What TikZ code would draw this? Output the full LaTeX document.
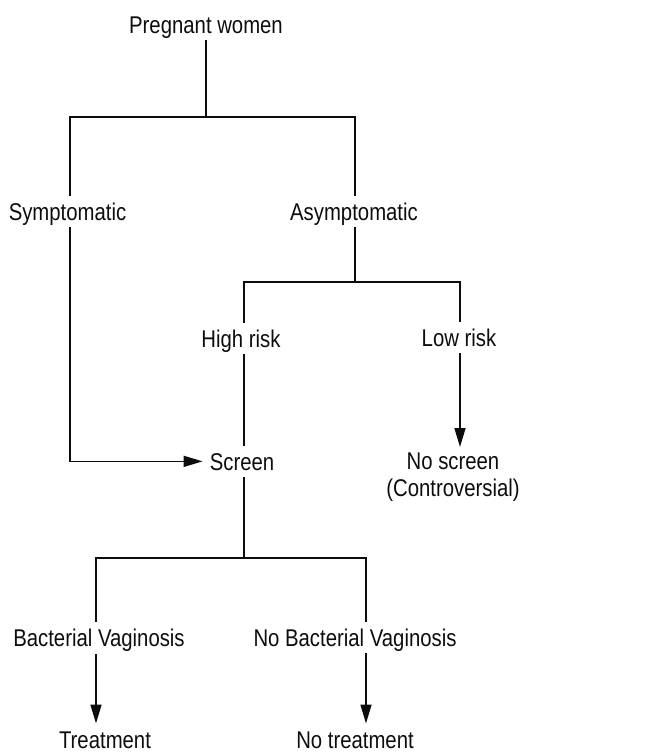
\documentclass[tikz,border=0pt]{standalone}
\usepackage{fontspec}
\setmainfont{Liberation Sans}[FakeStretch=0.84]
\usepackage{tikz}
\usetikzlibrary{arrows.meta,positioning}
\definecolor{ChartInk}{gray}{0.05}
\tikzset{
  chart/.style={x=1pt,y=-1pt,text=ChartInk,draw=ChartInk},
  term/.style={font=\fontsize{24.2pt}{27pt}\selectfont,inner xsep=7pt,inner ysep=7pt},
  oneline/.style={term,anchor=base,text height=17.3pt,text depth=0pt},
  link/.style={line width=1.6pt,draw=ChartInk},
  flow/.style={link,-{Triangle[length=19pt,width=11pt]}},
}

\begin{document}
\begin{tikzpicture}[chart]
  \useasboundingbox (0,0) rectangle (650,753);

  \node[oneline] (preg) at (206,33) {Pregnant women};
  \node[oneline] (sym) at (67.5,220) {Symptomatic};
  \node[oneline] (asym) at (354,220) {Asymptomatic};
  \node[oneline] (high) at (241,347) {High risk};
  \node[oneline] (low) at (459,346) {Low risk};
  \node[oneline] (screen) at (242,470) {Screen};
  \node[term,anchor=north,align=center,inner ysep=6pt] (nos) at (453,447)
    {No screen\\(Controversial)};
  \node[oneline] (bv) at (99,646.7) {Bacterial Vaginosis};
  \node[oneline] (nbv) at (355,646) {No Bacterial Vaginosis};
  \node[oneline] (treat) at (105,748) {Treatment};
  \node[oneline] (notreat) at (355,748) {No treatment};

  \coordinate (a1) at (70,117);
  \coordinate (a2) at (355,117);
  \coordinate (b1) at (244,282);
  \coordinate (b2) at (460,282);
  \coordinate (c1) at (96,558);
  \coordinate (c2) at (366,558);

  \draw[link] (preg) -- (preg |- a1);
  \draw[link] (sym.north -| a1) -- (a1) -- (a2) -- (asym.north -| a2);
  \draw[flow] (sym.south -| a1) |- (screen.west);
  \draw[link] (asym.south -| a2) -- (a2 |- b1);
  \draw[link] (high.north -| b1) -- (b1) -- (b2) -- (low.north -| b2);
  \draw[link] (high.south -| b1) -- (screen.north -| b1);
  \draw[flow] (low.south -| b2) -- (nos.north -| b2);
  \draw[link] (screen.south -| b1) -- (b1 |- c1);
  \draw[link] (bv.north -| c1) -- (c1) -- (c2) -- (nbv.north -| c2);
  \draw[flow] (bv.south -| c1) -- (treat.north -| c1);
  \draw[flow] (nbv.south -| c2) -- (notreat.north -| c2);
\end{tikzpicture}
\end{document}
